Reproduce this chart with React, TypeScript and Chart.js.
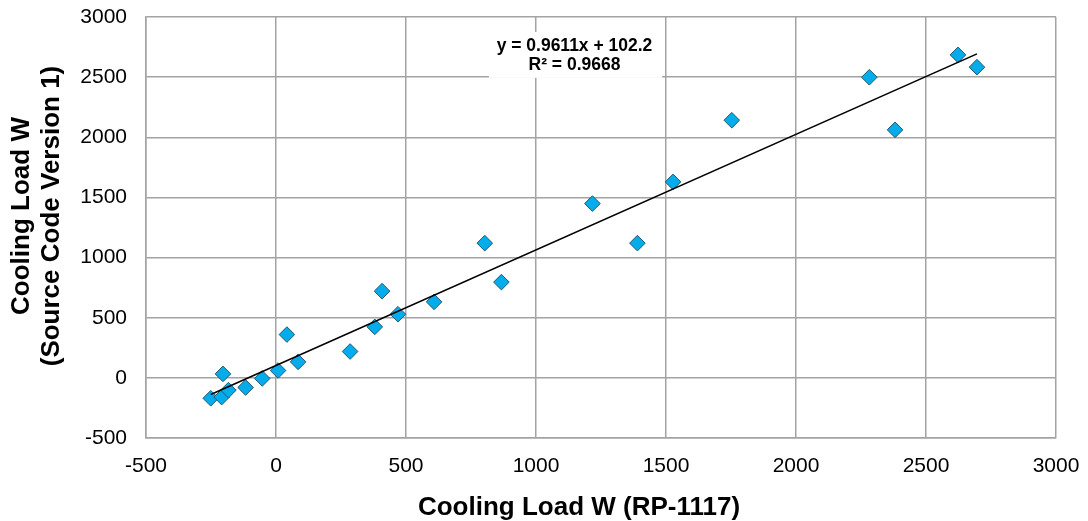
import React, { useEffect, useRef } from "react";
import { Chart, registerables } from "chart.js";

Chart.register(...registerables);

// RP-1117 cooling load (W)
const xValues = [-251, -209, -183, -204, -117, -53, 8, 85, 42, 285, 380, 469, 408, 608, 803, 867, 1217, 1390, 1527, 1753, 2282, 2381, 2623, 2696];
// Source Code Version 1 cooling load (W)
const yValues = [-170, -160, -102, 33, -80, -5, 61, 133, 360, 219, 424, 529, 721, 632, 1120, 796, 1449, 1120, 1629, 2142, 2499, 2062, 2685, 2583];

const trendSlope = 0.9611;
const trendIntercept = 102.2;
const equationLines = ["y = 0.9611x + 102.2", "R² = 0.9668"];

const xAxisTitle = "Cooling Load W (RP-1117)";
const yAxisTitle = ["Cooling Load W", "(Source Code Version 1)"];

const axisMin = -500;
const axisMax = 3000;
const axisStep = 500;

const FONT = '"Liberation Sans", Arial, Helvetica, sans-serif';
const GRID = "#a3a3a3";

export default function App() {
  const ref = useRef<HTMLCanvasElement>(null);

  useEffect(() => {
    const points = xValues.map((x, i) => ({ x, y: yValues[i] }));
    const xMin = Math.min(...xValues);
    const xMax = Math.max(...xValues);
    const trend = [
      { x: xMin, y: trendSlope * xMin + trendIntercept },
      { x: xMax, y: trendSlope * xMax + trendIntercept },
    ];

    const annotationPlugin = {
      id: "annotations",
      beforeDatasetsDraw(chart: any) {
        const { ctx, scales } = chart;
        const sx = scales.x;
        const sy = scales.y;
        // equation box (in data units)
        const left = sx.getPixelForValue(819);
        const right = sx.getPixelForValue(1485);
        const top = sy.getPixelForValue(2876);
        const bottom = sy.getPixelForValue(2494);
        ctx.save();
        ctx.fillStyle = "#ffffff";
        ctx.fillRect(left, top, right - left, bottom - top);
        ctx.fillStyle = "#000000";
        ctx.font = `bold 17.5px ${FONT}`;
        ctx.textAlign = "center";
        ctx.textBaseline = "middle";
        const cx = sx.getPixelForValue(1148);
        ctx.fillText(equationLines[0], cx, sy.getPixelForValue(2760));
        ctx.fillText(equationLines[1], cx, sy.getPixelForValue(2600));
        ctx.restore();
      },
      afterDraw(chart: any) {
        const { ctx } = chart;
        ctx.save();
        ctx.fillStyle = "#000000";
        ctx.font = `bold 26px ${FONT}`;
        ctx.textAlign = "center";
        ctx.textBaseline = "alphabetic";
        ctx.fillText(xAxisTitle, 579, 515);
        ctx.translate(29, 216);
        ctx.rotate(-Math.PI / 2);
        ctx.fillText(yAxisTitle[0], 0, 0);
        ctx.fillText(yAxisTitle[1], 0, 30);
        ctx.restore();
      },
    };

    const tickFmt = (v: any) => String(v);

    const chart = new Chart(ref.current!, {
      type: "scatter",
      data: {
        datasets: [
          {
            label: "Cooling Load",
            data: points,
            pointStyle: "rectRot",
            pointRadius: 7.8,
            pointHoverRadius: 7.8,
            backgroundColor: "#05acec",
            borderColor: "#22586a",
            borderWidth: 1,
            showLine: false,
            order: 1,
          },
          {
            label: "Linear",
            data: trend,
            type: "line",
            showLine: true,
            borderColor: "#000000",
            borderWidth: 1.6,
            pointRadius: 0,
            fill: false,
            order: 0,
          } as any,
        ],
      },
      plugins: [annotationPlugin],
      options: {
        responsive: false,
        animation: false,
        devicePixelRatio: 1,
        layout: { padding: { top: 17, right: 32, left: 0, bottom: 0 } },
        plugins: {
          legend: { display: false },
          tooltip: { enabled: false },
        },
        scales: {
          x: {
            type: "linear",
            min: axisMin,
            max: axisMax,
            afterFit: (s: any) => {
              s.height = 83;
              s.paddingLeft = 0;
              s.paddingRight = 0;
              s.paddingTop = 0;
              s.paddingBottom = 0;
            },
            ticks: {
              stepSize: axisStep,
              color: "#000000",
              font: { family: FONT, size: 21 },
              padding: 16,
              maxRotation: 0,
              callback: tickFmt,
            },
            grid: { color: GRID, lineWidth: 1.5, drawTicks: false },
            border: { color: GRID, width: 1.5 },
            title: { display: false },
          },
          y: {
            type: "linear",
            min: axisMin,
            max: axisMax,
            afterFit: (s: any) => {
              s.width = 146;
              s.paddingLeft = 0;
              s.paddingRight = 0;
              s.paddingTop = 0;
              s.paddingBottom = 0;
            },
            ticks: {
              stepSize: axisStep,
              color: "#000000",
              font: { family: FONT, size: 21 },
              padding: 19,
              callback: tickFmt,
            },
            grid: { color: GRID, lineWidth: 1.5, drawTicks: false },
            border: { color: GRID, width: 1.5 },
            title: { display: false },
          },
        },
      },
    });
    return () => chart.destroy();
  }, []);

  return (
    <div style={{ position: "absolute", left: 0, top: 0, width: 1088, height: 521, background: "#ffffff" }}>
      <canvas ref={ref} width={1088} height={521} style={{ display: "block", width: 1088, height: 521 }} />
    </div>
  );
}
